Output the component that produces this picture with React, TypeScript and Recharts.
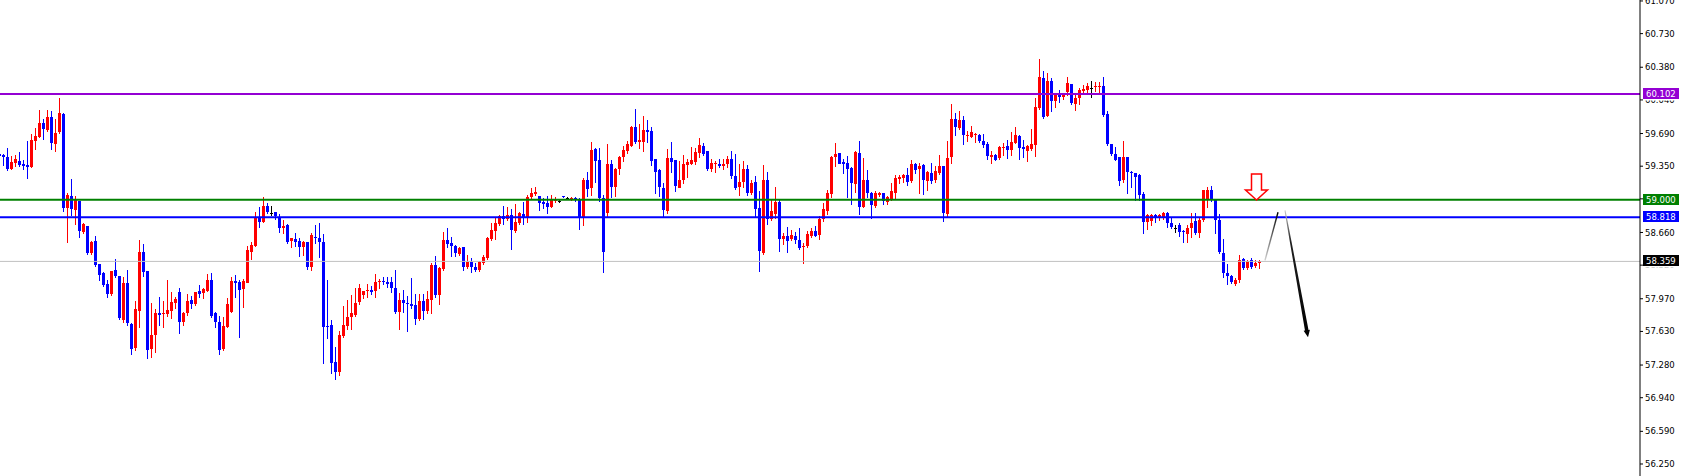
import React from 'react';
import { ComposedChart, Bar, XAxis, YAxis, ReferenceLine, ReferenceDot } from 'recharts';

// H1 candles, oldest first
const OPEN = [
  59.48, 59.47, 59.45, 59.32, 59.38, 59.40, 59.37, 59.36, 59.34, 59.61,
  59.65, 59.80, 59.72, 59.86, 59.59, 59.70, 59.89, 58.91, 59.04, 58.90,
  58.99, 58.67, 58.73, 58.45, 58.57, 58.33, 58.24, 58.12, 58.02, 58.27,
  58.21, 57.75, 58.13, 57.71, 57.45, 57.85, 58.46, 58.26, 57.44, 57.59,
  57.82, 57.81, 57.81, 57.85, 57.93, 58.04, 57.73, 57.82, 57.96, 57.92,
  58.05, 58.03, 58.06, 58.17, 57.82, 57.73, 57.45, 57.68, 57.83, 58.15,
  58.14, 58.07, 58.14, 58.46, 58.52, 58.82, 58.77, 58.94, 58.86, 58.87,
  58.82, 58.71, 58.74, 58.57, 58.59, 58.57, 58.51, 58.56, 58.30, 58.61,
  58.60, 58.56, 57.69, 57.70, 57.31, 57.21, 57.59, 57.69, 57.78, 57.81,
  57.93, 58.01, 58.05, 58.06, 58.05, 58.14, 58.15, 58.14, 58.14, 58.08,
  57.83, 57.96, 57.93, 57.92, 57.91, 57.76, 57.95, 57.85, 57.96, 58.32,
  58.01, 58.28, 58.58, 58.55, 58.52, 58.44, 58.51, 58.30, 58.35, 58.30,
  58.27, 58.34, 58.39, 58.60, 58.68, 58.75, 58.83, 58.80, 58.84, 58.68,
  58.76, 58.85, 58.82, 59.03, 59.06, 59.04, 58.98, 58.97, 58.93, 58.99,
  58.99, 59.04, 59.02, 59.01, 59.02, 59.01, 58.82, 59.21, 59.12, 59.53,
  59.41, 59.02, 58.86, 59.37, 59.13, 59.32, 59.45, 59.51, 59.56, 59.76,
  59.60, 59.61, 59.73, 59.72, 59.43, 59.31, 59.12, 58.89, 59.44, 59.41,
  59.13, 59.20, 59.36, 59.37, 59.40, 59.49, 59.56, 59.51, 59.32, 59.37,
  59.37, 59.35, 59.37, 59.42, 59.25, 59.14, 59.18, 59.32, 59.07, 59.19,
  58.91, 58.45, 59.21, 58.80, 58.86, 58.98, 58.59, 58.62, 58.59, 58.62,
  58.58, 58.51, 58.51, 58.63, 58.68, 58.63, 58.80, 58.88, 59.06, 59.45,
  59.49, 59.39, 59.38, 59.33, 59.17, 59.49, 58.93, 59.21, 59.07, 58.93,
  59.05, 59.07, 58.98, 59.00, 59.07, 59.22, 59.23, 59.26, 59.19, 59.37,
  59.32, 59.36, 59.20, 59.28, 59.21, 59.28, 59.35, 58.86, 59.44, 59.84,
  59.75, 59.83, 59.66, 59.66, 59.67, 59.67, 59.61, 59.58, 59.45, 59.47,
  59.44, 59.54, 59.56, 59.52, 59.59, 59.66, 59.55, 59.51, 59.53, 59.57,
  59.96, 60.27, 59.88, 60.24, 60.03, 60.10, 60.07, 60.13, 60.21, 60.00,
  60.06, 60.13, 60.14, 60.16, 60.17, 60.17, 60.18, 59.89, 59.58, 59.48,
  59.45, 59.21, 59.45, 59.29, 59.28, 59.26, 59.06, 58.77, 58.78, 58.84,
  58.81, 58.82, 58.86, 58.76, 58.71, 58.74, 58.68, 58.65, 58.71, 58.78,
  58.65, 58.79, 59.00, 59.10, 59.00, 58.79, 58.45, 58.24, 58.21, 58.13,
  58.16, 58.38, 58.29, 58.37, 58.31, 58.34,
];

const HIGH = [
  59.61, 59.48, 59.54, 59.46, 59.47, 59.50, 59.41, 59.61, 59.69, 59.75,
  59.94, 59.84, 59.94, 59.92, 59.84, 60.06, 59.90, 59.07, 59.22, 59.04,
  58.99, 58.76, 58.73, 58.57, 58.62, 58.33, 58.25, 58.17, 58.26, 58.38,
  58.21, 58.20, 58.27, 57.72, 57.95, 58.58, 58.54, 58.26, 57.93, 57.86,
  57.99, 57.95, 58.17, 58.04, 57.99, 58.08, 57.83, 58.02, 58.00, 58.04,
  58.11, 58.08, 58.23, 58.24, 57.83, 57.79, 57.78, 57.98, 58.20, 58.22,
  58.17, 58.18, 58.52, 58.56, 58.87, 58.93, 59.03, 58.97, 58.94, 58.87,
  58.85, 58.79, 58.75, 58.60, 58.65, 58.60, 58.57, 58.56, 58.65, 58.74,
  58.76, 58.64, 58.17, 57.75, 57.47, 57.63, 57.89, 57.96, 58.01, 58.08,
  58.12, 58.05, 58.12, 58.10, 58.23, 58.18, 58.20, 58.20, 58.20, 58.27,
  58.03, 58.06, 58.00, 58.19, 58.02, 58.02, 58.02, 58.05, 58.34, 58.41,
  58.30, 58.67, 58.71, 58.61, 58.53, 58.51, 58.51, 58.43, 58.39, 58.34,
  58.36, 58.43, 58.61, 58.76, 58.82, 58.84, 58.94, 58.93, 58.90, 58.96,
  58.87, 58.98, 59.05, 59.12, 59.13, 59.04, 59.02, 59.04, 59.05, 59.03,
  59.00, 59.04, 59.03, 59.03, 59.03, 59.02, 59.23, 59.29, 59.60, 59.54,
  59.54, 59.05, 59.58, 59.41, 59.33, 59.46, 59.56, 59.61, 59.77, 59.95,
  59.79, 59.87, 59.83, 59.76, 59.43, 59.32, 59.17, 59.53, 59.60, 59.41,
  59.40, 59.47, 59.42, 59.55, 59.54, 59.64, 59.59, 59.51, 59.42, 59.40,
  59.42, 59.42, 59.46, 59.51, 59.48, 59.37, 59.40, 59.36, 59.21, 59.25,
  59.09, 59.36, 59.29, 59.01, 59.13, 59.01, 58.65, 58.72, 58.69, 58.66,
  58.71, 58.55, 58.68, 58.71, 58.73, 58.83, 58.97, 59.10, 59.46, 59.59,
  59.49, 59.43, 59.46, 59.34, 59.51, 59.61, 59.44, 59.31, 59.08, 59.09,
  59.08, 59.07, 59.04, 59.17, 59.26, 59.26, 59.27, 59.33, 59.41, 59.38,
  59.38, 59.37, 59.30, 59.38, 59.35, 59.47, 59.35, 59.61, 60.00, 59.90,
  59.92, 59.87, 59.72, 59.77, 59.70, 59.69, 59.69, 59.60, 59.51, 59.48,
  59.56, 59.59, 59.62, 59.71, 59.76, 59.67, 59.62, 59.57, 59.74, 60.06,
  60.47, 60.34, 60.32, 60.27, 60.11, 60.14, 60.11, 60.28, 60.21, 60.09,
  60.16, 60.19, 60.22, 60.24, 60.23, 60.23, 60.28, 59.92, 59.58, 59.55,
  59.45, 59.61, 59.45, 59.30, 59.28, 59.27, 59.08, 58.85, 58.85, 58.85,
  58.85, 58.87, 58.87, 58.82, 58.74, 58.76, 58.69, 58.74, 58.86, 58.86,
  58.81, 59.10, 59.13, 59.14, 59.00, 58.85, 58.59, 58.33, 58.22, 58.19,
  58.43, 58.39, 58.37, 58.39, 58.37, 58.37,
];

const LOW = [
  59.37, 59.36, 59.31, 59.32, 59.35, 59.35, 59.32, 59.23, 59.34, 59.53,
  59.65, 59.63, 59.72, 59.53, 59.51, 59.70, 58.88, 58.56, 58.84, 58.75,
  58.61, 58.65, 58.44, 58.44, 58.31, 58.17, 58.10, 57.99, 58.01, 58.20,
  57.76, 57.73, 57.70, 57.40, 57.44, 57.68, 58.21, 57.35, 57.36, 57.42,
  57.70, 57.68, 57.79, 57.77, 57.87, 57.61, 57.70, 57.80, 57.87, 57.90,
  57.99, 57.98, 58.05, 57.78, 57.68, 57.40, 57.44, 57.68, 57.83, 57.99,
  57.57, 57.88, 58.14, 58.38, 58.52, 58.72, 58.77, 58.86, 58.84, 58.80,
  58.67, 58.65, 58.55, 58.51, 58.52, 58.42, 58.43, 58.28, 58.27, 58.55,
  58.40, 57.30, 57.56, 57.20, 57.13, 57.18, 57.57, 57.66, 57.66, 57.79,
  57.92, 57.98, 57.99, 58.02, 57.99, 58.08, 58.12, 58.09, 58.04, 57.82,
  57.66, 57.83, 57.63, 57.87, 57.71, 57.75, 57.76, 57.82, 57.82, 57.99,
  57.92, 58.27, 58.51, 58.42, 58.42, 58.43, 58.27, 58.29, 58.25, 58.26,
  58.26, 58.33, 58.38, 58.58, 58.59, 58.74, 58.75, 58.79, 58.49, 58.67,
  58.75, 58.75, 58.77, 59.01, 59.05, 58.89, 58.91, 58.86, 58.92, 58.98,
  58.98, 59.03, 59.01, 59.00, 58.99, 58.70, 58.74, 59.04, 59.05, 59.19,
  58.99, 58.25, 58.83, 59.03, 59.04, 59.27, 59.40, 59.49, 59.56, 59.59,
  59.54, 59.51, 59.60, 59.36, 59.07, 59.04, 58.82, 58.86, 59.29, 59.09,
  59.13, 59.17, 59.24, 59.37, 59.37, 59.45, 59.47, 59.31, 59.30, 59.29,
  59.34, 59.32, 59.34, 59.23, 59.11, 59.05, 59.13, 59.05, 59.06, 58.82,
  58.26, 58.44, 58.75, 58.79, 58.81, 58.47, 58.54, 58.46, 58.58, 58.55,
  58.49, 58.34, 58.51, 58.61, 58.62, 58.59, 58.78, 58.85, 59.03, 59.35,
  59.38, 59.28, 59.03, 58.96, 59.08, 58.85, 58.92, 59.03, 58.81, 58.92,
  59.04, 58.96, 58.96, 59.00, 59.01, 59.17, 59.19, 59.15, 59.19, 59.28,
  59.07, 59.06, 59.10, 59.17, 59.19, 59.27, 58.78, 58.83, 59.38, 59.67,
  59.74, 59.58, 59.61, 59.65, 59.60, 59.60, 59.55, 59.42, 59.38, 59.41,
  59.43, 59.47, 59.44, 59.47, 59.59, 59.42, 59.45, 59.40, 59.52, 59.46,
  59.95, 59.85, 59.87, 59.92, 59.97, 60.02, 60.05, 60.09, 60.00, 59.93,
  60.00, 60.11, 60.12, 60.07, 60.13, 60.12, 59.87, 59.57, 59.47, 59.41,
  59.15, 59.19, 59.07, 59.13, 59.00, 59.00, 58.65, 58.70, 58.74, 58.77,
  58.79, 58.80, 58.72, 58.71, 58.67, 58.62, 58.56, 58.56, 58.61, 58.64,
  58.61, 58.78, 58.92, 58.99, 58.65, 58.45, 58.20, 58.12, 58.13, 58.11,
  58.14, 58.28, 58.28, 58.29, 58.30, 58.29,
];

const CLOSE = [
  59.46, 59.45, 59.32, 59.39, 59.42, 59.36, 59.35, 59.34, 59.62, 59.66,
  59.80, 59.74, 59.86, 59.59, 59.70, 59.90, 58.91, 59.05, 58.90, 59.01,
  58.68, 58.75, 58.45, 58.56, 58.32, 58.22, 58.11, 58.02, 58.26, 58.21,
  57.77, 58.13, 57.71, 57.45, 57.86, 58.46, 58.25, 57.44, 57.59, 57.82,
  57.80, 57.82, 57.85, 57.94, 57.97, 57.73, 57.82, 57.95, 57.92, 58.04,
  58.02, 58.07, 58.17, 57.80, 57.73, 57.44, 57.69, 57.92, 58.15, 58.13,
  58.06, 58.15, 58.48, 58.53, 58.82, 58.77, 58.94, 58.88, 58.86, 58.83,
  58.71, 58.73, 58.56, 58.60, 58.56, 58.51, 58.56, 58.30, 58.63, 58.60,
  58.56, 57.67, 57.68, 57.30, 57.21, 57.59, 57.70, 57.78, 57.82, 57.93,
  58.08, 58.05, 58.06, 58.04, 58.14, 58.15, 58.14, 58.12, 58.08, 57.83,
  57.96, 57.93, 57.92, 57.90, 57.76, 57.95, 57.85, 57.97, 58.32, 58.01,
  58.29, 58.58, 58.54, 58.52, 58.45, 58.50, 58.30, 58.35, 58.30, 58.27,
  58.35, 58.40, 58.60, 58.69, 58.76, 58.83, 58.80, 58.84, 58.68, 58.77,
  58.86, 58.82, 59.03, 59.07, 59.08, 58.97, 58.96, 58.93, 59.01, 59.00,
  58.99, 59.03, 59.02, 59.02, 59.00, 58.82, 59.21, 59.12, 59.52, 59.40,
  59.01, 58.46, 59.37, 59.13, 59.32, 59.45, 59.52, 59.58, 59.76, 59.60,
  59.62, 59.73, 59.71, 59.41, 59.29, 59.13, 58.89, 59.44, 59.40, 59.14,
  59.21, 59.37, 59.39, 59.41, 59.50, 59.57, 59.48, 59.32, 59.38, 59.38,
  59.35, 59.37, 59.42, 59.24, 59.13, 59.19, 59.32, 59.07, 59.17, 58.91,
  58.46, 59.21, 58.80, 58.88, 58.98, 58.59, 58.62, 58.57, 58.63, 58.58,
  58.50, 58.52, 58.64, 58.68, 58.63, 58.80, 58.90, 59.07, 59.45, 59.48,
  59.38, 59.37, 59.32, 59.17, 59.50, 58.93, 59.21, 59.07, 58.95, 59.07,
  59.07, 58.99, 59.03, 59.09, 59.23, 59.24, 59.26, 59.19, 59.37, 59.31,
  59.35, 59.20, 59.29, 59.20, 59.30, 59.35, 58.86, 59.44, 59.84, 59.76,
  59.83, 59.67, 59.67, 59.71, 59.68, 59.61, 59.57, 59.45, 59.47, 59.42,
  59.55, 59.55, 59.52, 59.60, 59.67, 59.54, 59.53, 59.56, 59.58, 59.97,
  60.28, 59.86, 60.24, 60.03, 60.10, 60.07, 60.10, 60.22, 60.01, 60.06,
  60.14, 60.15, 60.18, 60.16, 60.18, 60.18, 59.88, 59.58, 59.48, 59.42,
  59.20, 59.45, 59.29, 59.28, 59.24, 59.05, 58.77, 58.84, 58.84, 58.82,
  58.84, 58.86, 58.76, 58.72, 58.71, 58.67, 58.67, 58.71, 58.76, 58.65,
  58.79, 59.10, 59.10, 59.00, 58.79, 58.46, 58.24, 58.21, 58.15, 58.17,
  58.37, 58.29, 58.36, 58.30, 58.34, 58.36,
];

const RESISTANCE = 60.102;
const LEVEL = 59.0;
const SUPPORT = 58.818;
const BID = 58.359;

const PRICE_TICKS = [61.07, 60.73, 60.38, 60.04, 59.69, 59.35, 59.01, 58.66, 58.32, 57.97, 57.63, 57.28, 56.94, 56.59, 56.25];
// tick labels that sit behind a price tag: hidden fully, or only their lower edge shows
const COVERED_TICKS = [59.01];
const PEEKING_TICKS: Record<string, number> = { '60.040': 0.5, '58.320': 2.5 };

// projection drawn by hand: [bar index, price]
const PATH_UP = [[316.15, 58.37], [319.4, 58.87]];
const PATH_DOWN = [[321.15, 58.89], [326.9, 57.57]];
const SIGNAL_BAR = 313.9;
const SIGNAL_PRICE = 59.0;

const FONT = '"DejaVu Sans", Tahoma, sans-serif';

const rows = OPEN.map((o, i) => ({ i, open: o, high: HIGH[i], low: LOW[i], close: CLOSE[i] }));

const Candle = (props: any) => {
  const { x, y, width, height, payload } = props;
  if (x == null || y == null || !payload) return null;
  const { open, close, high, low } = payload;
  const top = Math.min(y, y + height);
  const h = Math.abs(height);
  const py = (p: number) => top + ((high - p) / (high - low || 1)) * h;
  const cx = Math.floor(x + width / 2) + 0.5;
  const color = close > open ? '#ff0000' : close < open ? '#0000ff' : '#000000';
  const yo = py(open);
  const yc = py(close);
  const bTop = Math.round(Math.min(yo, yc));
  const bH = Math.max(1, Math.round(Math.abs(yo - yc)));
  return (
    <g>
      <line x1={cx} x2={cx} y1={Math.round(top)} y2={Math.round(top + h) + 1} stroke={color} strokeWidth={1} />
      <rect x={cx - 1.5} y={bTop} width={3} height={bH} fill={color} />
    </g>
  );
};

const PriceTick = ({ x, y, payload }: any) => {
  const v = payload?.value;
  if (v == null || COVERED_TICKS.includes(v)) return null;
  const label = v.toFixed(3);
  const cut = PEEKING_TICKS[label];
  const id = `clip-${label.replace('.', '-')}`;
  return (
    <g>
      {cut != null && (
        <defs>
          <clipPath id={id}>
            <rect x={x - 2} y={y + cut} width={45} height={10} />
          </clipPath>
        </defs>
      )}
      <text
        x={x}
        y={y}
        dy="0.36em"
        textAnchor="start"
        fill="#000000"
        fontSize={8.5}
        fontFamily={FONT}
        clipPath={cut != null ? `url(#${id})` : undefined}
      >
        {label}
      </text>
    </g>
  );
};

const PriceTag = ({ viewBox, color, value }: any) => {
  if (!viewBox) return null;
  const x = viewBox.x + viewBox.width + 3;
  const y = Math.round(viewBox.y);
  return (
    <g>
      <rect x={x} y={y - 6} width={36} height={11} fill={color} />
      <text x={x + 3} y={y - 0.5} dy="0.36em" fill="#ffffff" fontSize={8.5} fontFamily={FONT}>
        {value.toFixed(3)}
      </text>
    </g>
  );
};

const ThinLeg = ({ x1, y1, x2, y2 }: any) => {
  if (x1 == null) return null;
  return (
    <g>
      <defs>
        <linearGradient id="legUp" gradientUnits="userSpaceOnUse" x1={x1} y1={y1} x2={x2} y2={y2}>
          <stop offset="0%" stopColor="#d0d0d0" />
          <stop offset="100%" stopColor="#000000" />
        </linearGradient>
      </defs>
      <line x1={x1} y1={y1} x2={x2} y2={y2} stroke="url(#legUp)" strokeWidth={1.4} />
    </g>
  );
};

const ArrowLeg = ({ x1, y1, x2, y2 }: any) => {
  if (x1 == null) return null;
  const dx = x2 - x1;
  const dy = y2 - y1;
  const len = Math.hypot(dx, dy) || 1;
  const ux = dx / len;
  const uy = dy / len;
  const nx = -uy;
  const ny = ux;
  const bx = x2 - ux * 7;
  const by = y2 - uy * 7;
  const pts = [
    [x1 + nx * 0.5, y1 + ny * 0.5],
    [bx + nx * 1.8, by + ny * 1.8],
    [bx + nx * 3.2, by + ny * 3.2],
    [x2, y2],
    [bx - nx * 3.2, by - ny * 3.2],
    [bx - nx * 1.8, by - ny * 1.8],
    [x1 - nx * 0.5, y1 - ny * 0.5],
  ];
  return (
    <g>
      <defs>
        <linearGradient id="legDown" gradientUnits="userSpaceOnUse" x1={x1} y1={y1} x2={x2} y2={y2}>
          <stop offset="0%" stopColor="#c8c8c8" />
          <stop offset="25%" stopColor="#202020" />
          <stop offset="100%" stopColor="#000000" />
        </linearGradient>
      </defs>
      <polygon points={pts.map((p) => p.join(',')).join(' ')} fill="url(#legDown)" />
    </g>
  );
};

const SignalArrow = ({ cx, cy }: any) => {
  if (cx == null) return null;
  const x = Math.round(cx) + 0.5;
  const y = Math.round(cy);
  const d = `M${x},${y} L${x - 11},${y - 10} L${x - 5},${y - 10} L${x - 5},${y - 26} L${x + 5},${y - 26} L${x + 5},${y - 10} L${x + 11},${y - 10} Z`;
  return <path d={d} fill="#ffffff" stroke="#ff0000" strokeWidth={1.5} strokeLinejoin="miter" />;
};

export default function App() {
  return (
    <div style={{ position: 'absolute', left: 0, top: 0, width: 1682, height: 476, background: '#ffffff' }}>
      <ComposedChart width={1682} height={476} data={rows} margin={{ top: 0, right: 0, bottom: 0, left: 0 }}>
        <XAxis dataKey="i" type="number" domain={[-0.1, 409.9]} allowDataOverflow hide />
        <YAxis
          orientation="right"
          type="number"
          width={42}
          domain={[56.125, 61.08]}
          allowDataOverflow
          ticks={PRICE_TICKS}
          interval={0}
          tick={(p: any) => <PriceTick {...p} />}
          tickSize={3}
          tickMargin={2}
          axisLine={{ stroke: '#000000' }}
          tickLine={{ stroke: '#000000' }}
        />
        <ReferenceLine y={BID} stroke="#c0c0c0" strokeWidth={1} label={<PriceTag color="#000000" value={BID} />} />
        <Bar
          dataKey={(d: any) => [d.low, d.high]}
          barSize={3}
          shape={(p: any) => <Candle {...p} />}
          isAnimationActive={false}
        />
        <ReferenceLine y={RESISTANCE} stroke="#9400d3" strokeWidth={2} label={<PriceTag color="#9400d3" value={RESISTANCE} />} />
        <ReferenceLine y={LEVEL} stroke="#008000" strokeWidth={2} label={<PriceTag color="#008000" value={LEVEL} />} />
        <ReferenceLine y={SUPPORT} stroke="#0000ff" strokeWidth={2} label={<PriceTag color="#0000ff" value={SUPPORT} />} />
        <ReferenceLine
          segment={[{ x: PATH_UP[0][0], y: PATH_UP[0][1] }, { x: PATH_UP[1][0], y: PATH_UP[1][1] }]}
          shape={(p: any) => <ThinLeg {...p} />}
        />
        <ReferenceLine
          segment={[{ x: PATH_DOWN[0][0], y: PATH_DOWN[0][1] }, { x: PATH_DOWN[1][0], y: PATH_DOWN[1][1] }]}
          shape={(p: any) => <ArrowLeg {...p} />}
        />
        <ReferenceDot x={SIGNAL_BAR} y={SIGNAL_PRICE} r={1} shape={(p: any) => <SignalArrow {...p} />} />
      </ComposedChart>
    </div>
  );
}
